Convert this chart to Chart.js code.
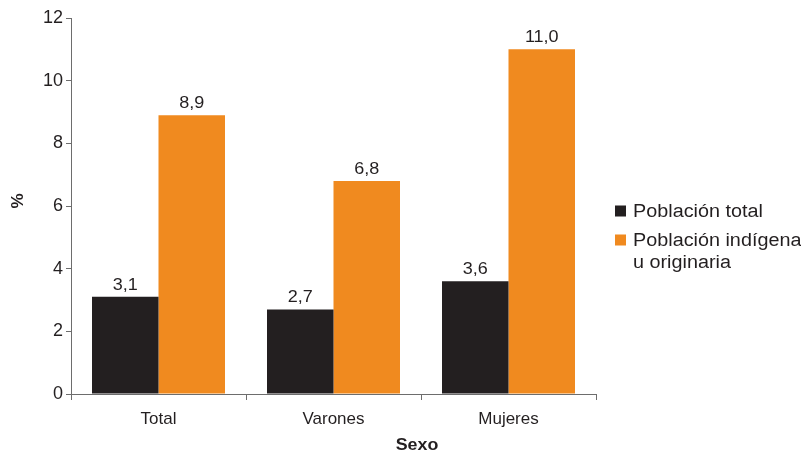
<!DOCTYPE html>
<html><head><meta charset="utf-8">
<script src="https://cdn.jsdelivr.net/npm/chart.js@4/dist/chart.umd.min.js"></script>
<style>html,body{margin:0;padding:0;background:#fff}</style>
</head><body>
<canvas id="c" width="801" height="452"></canvas>
<script>
const categories = ['Total', 'Varones', 'Mujeres'];
const seriesNames = ['Población total', ['Población indígena', 'u originaria']];
const poblacionTotal = [3.1, 2.7, 3.6];
const poblacionIndigena = [8.9, 6.8, 11.0];
const yTickValues = [0, 2, 4, 6, 8, 10, 12];
const xTitle = 'Sexo';
const yTitle = '%';
const colors = ['#231f20', '#f08a1f'];

const FONT = "'Liberation Sans', Arial, Helvetica, sans-serif";
const TEXT = '#231f20';
const AXIS = '#6d6d6d';

function stretchText(ctx, txt, x, y, sx) {
  ctx.save();
  ctx.translate(x, y);
  ctx.scale(sx, 1);
  ctx.fillText(txt, 0, 0);
  ctx.restore();
}

const labelsPlugin = {
  id: 'extras',
  afterDatasetsDraw(chart) {
    const ctx = chart.ctx;
    ctx.save();
    ctx.fillStyle = TEXT;
    ctx.font = '17px ' + FONT;
    ctx.textAlign = 'center';
    ctx.textBaseline = 'alphabetic';
    chart.data.datasets.forEach((ds, i) => {
      const meta = chart.getDatasetMeta(i);
      meta.data.forEach((bar, j) => {
        const v = ds.data[j];
        stretchText(ctx, v.toFixed(1).replace('.', ','), bar.x, bar.y - 7, 1.06);
      });
    });
    ctx.restore();
  },
  afterDraw(chart) {
    const ctx = chart.ctx;
    const area = chart.chartArea;
    ctx.save();
    // legend
    ctx.font = '18px ' + FONT;
    ctx.textAlign = 'left';
    ctx.textBaseline = 'middle';
    let y = 211;
    chart.data.datasets.forEach((ds, i) => {
      const lines = Array.isArray(ds.label) ? ds.label : [ds.label];
      ctx.fillStyle = ds.backgroundColor;
      ctx.fillRect(area.right + 19, y - 5.5, 11, 11);
      ctx.fillStyle = TEXT;
      lines.forEach((ln, k) => stretchText(ctx, ln, area.right + 37, y + 1 + k * 22, 1.1));
      y += 29;
    });
    // axis titles
    ctx.font = 'bold 17px ' + FONT;
    ctx.textAlign = 'center';
    ctx.fillStyle = TEXT;
    stretchText(ctx, xTitle, 417, 445, 1.05);
    ctx.translate(18, 201);
    ctx.rotate(-Math.PI / 2);
    ctx.fillText(yTitle, 0, 0);
    ctx.restore();
  }
};

new Chart(document.getElementById('c'), {
  type: 'bar',
  data: {
    labels: categories,
    datasets: [
      { label: seriesNames[0], data: poblacionTotal, backgroundColor: colors[0], categoryPercentage: 0.76, barPercentage: 1.0 },
      { label: seriesNames[1], data: poblacionIndigena, backgroundColor: colors[1], categoryPercentage: 0.76, barPercentage: 1.0 }
    ]
  },
  options: {
    responsive: false,
    animation: false,
    layout: { padding: { top: 18, right: 205, bottom: 0, left: 0 } },
    plugins: { legend: { display: false }, tooltip: { enabled: false } },
    scales: {
      x: {
        offset: true,
        grid: { display: true, drawOnChartArea: false, drawTicks: true, tickLength: 6, color: AXIS, offset: true },
        border: { display: true, color: AXIS, width: 1 },
        ticks: { color: TEXT, font: { family: FONT, size: 17 }, padding: 9 },
        afterFit: s => { s.height = 58; }
      },
      y: {
        min: 0, max: 12,
        afterBuildTicks: s => { s.ticks = yTickValues.map(v => ({ value: v })); },
        grid: { display: true, drawOnChartArea: false, drawTicks: true, tickLength: 5, color: AXIS },
        border: { display: true, color: AXIS, width: 1 },
        ticks: { color: TEXT, font: { family: FONT, size: 18 }, padding: 3 },
        afterFit: s => { s.width = 71; }
      }
    }
  },
  plugins: [labelsPlugin]
});
</script>
</body></html>
